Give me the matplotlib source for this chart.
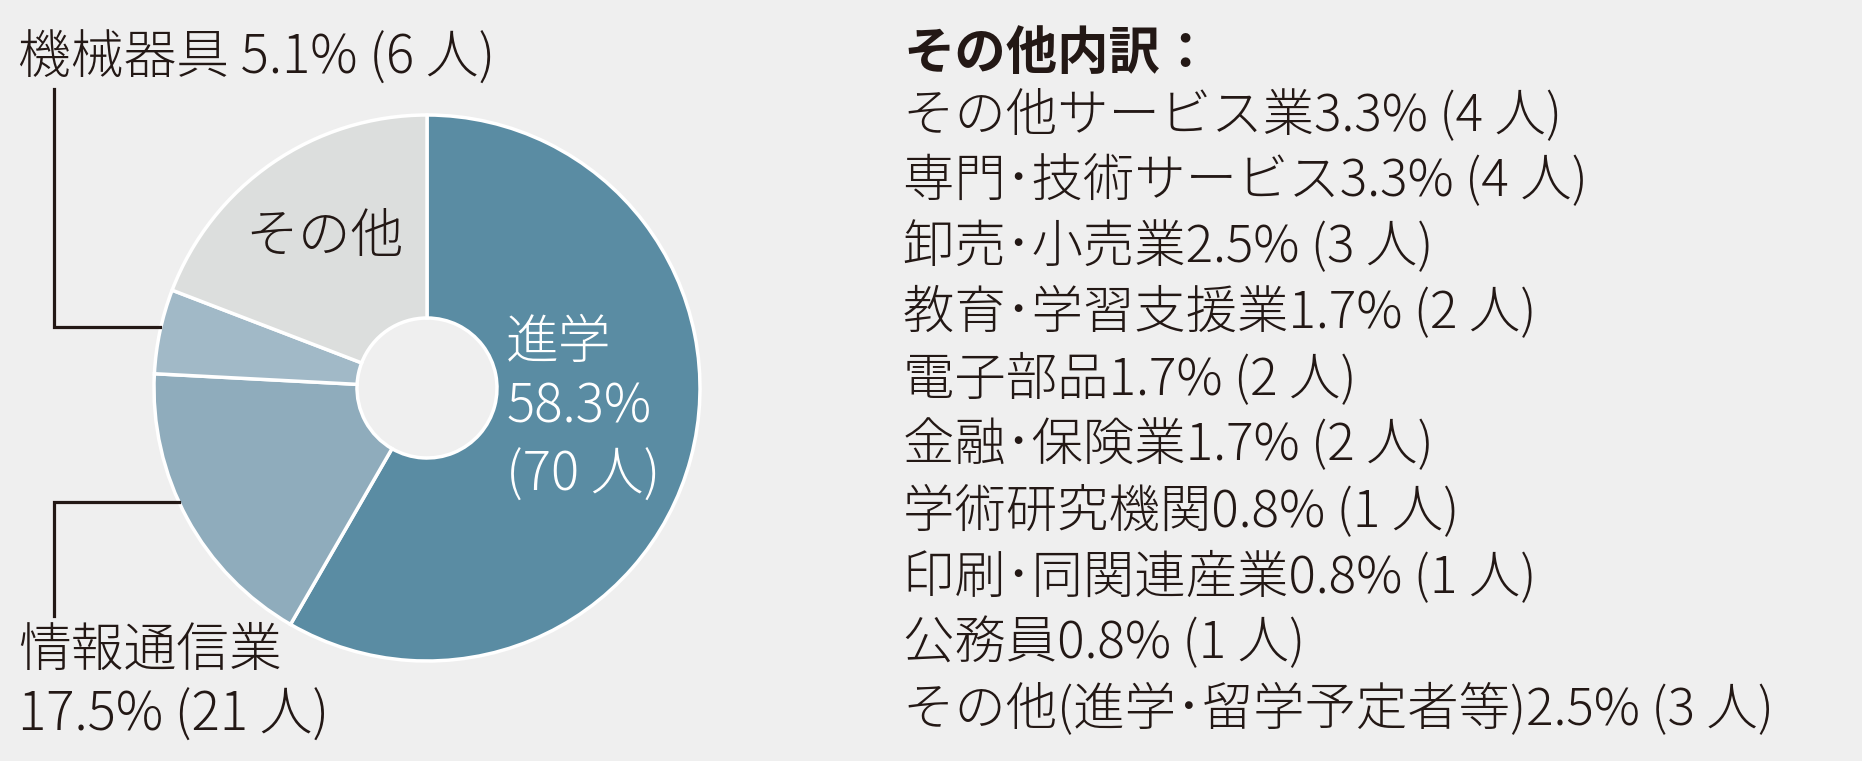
import matplotlib
matplotlib.use('Agg')
from matplotlib import pyplot as plt

plt.rcParams['font.family'] = ['Noto Sans CJK JP', 'DejaVu Sans']

# pie data
labels = ['進学', '情報通信業', '機械器具', 'その他']
counts = [70, 21, 6, 23]
pcts = [58.3, 17.5, 5.1, 19.1]
colors = ['#5a8ca3', '#8facbc', '#a1b9c7', '#dcdedd']

# その他 breakdown
other_names = ['その他サービス業', '専門･技術サービス', '卸売･小売業', '教育･学習支援業',
               '電子部品', '金融･保険業', '学術研究機関', '印刷･同関連産業', '公務員',
               'その他(進学･留学予定者等)']
other_pcts = [3.3, 3.3, 2.5, 1.7, 1.7, 1.7, 0.8, 0.8, 0.8, 2.5]
other_counts = [4, 4, 3, 2, 2, 2, 1, 1, 1, 3]

W, H = 1862, 761
bg = '#efefef'
ink = '#231815'
fs = 37
fs2 = 38
wt = 'light'

fig = plt.figure(figsize=(W / 100, H / 100), dpi=100, facecolor=bg)
ax = fig.add_axes([0, 0, 1, 1])
ax.set_facecolor(bg)
ax.axis('off')

def Y(y):
    return H - y

R = 273
r_in = 70
cx, cy = 427, Y(388)
ax.pie(counts, colors=colors, startangle=90, counterclock=False,
       center=(cx, cy), radius=R,
       wedgeprops=dict(width=R - r_in, edgecolor='white', linewidth=2.5))
ax.set_xlim(0, W)
ax.set_ylim(0, H)
ax.set_aspect('equal')

# labels inside the pie
ax.text(506, Y(343), labels[0], color='white', fontsize=fs2, fontweight=wt,
        va='center', ha='left')
ax.text(506, Y(408), f'{pcts[0]}%', color='white', fontsize=fs2, fontweight=wt,
        va='center', ha='left')
ax.text(506, Y(476), f'({counts[0]} 人)', color='white', fontsize=fs2, fontweight=wt,
        va='center', ha='left')
ax.text(324, Y(237), labels[3], color=ink, fontsize=fs2, fontweight=wt,
        va='center', ha='center')

# outside labels
ax.text(18, Y(59), f'{labels[2]} {pcts[2]}% ({counts[2]} 人)', color=ink, fontsize=fs2,
        fontweight=wt, va='center', ha='left')
ax.text(18, Y(651), labels[1], color=ink, fontsize=fs2, fontweight=wt,
        va='center', ha='left')
ax.text(18, Y(716), f'{pcts[1]}% ({counts[1]} 人)', color=ink, fontsize=fs2,
        fontweight=wt, va='center', ha='left')

# leader lines
ax.plot([54, 54, 160], [Y(89), Y(327), Y(327)], color=ink, lw=2.3,
        solid_joinstyle='miter')
ax.plot([179, 54, 54], [Y(502), Y(502), Y(616)], color=ink, lw=2.3,
        solid_joinstyle='miter')

# breakdown list
ax.text(903, Y(53), 'その他内訳：', color=ink, fontsize=fs, fontweight='bold',
        va='center', ha='left')
for i, name in enumerate(other_names):
    ax.text(903, Y(116 + i * 66), f'{name}{other_pcts[i]}% ({other_counts[i]} 人)',
            color=ink, fontsize=fs, fontweight=wt, va='center', ha='left')

fig.savefig('out.png', dpi=100, facecolor=bg)
